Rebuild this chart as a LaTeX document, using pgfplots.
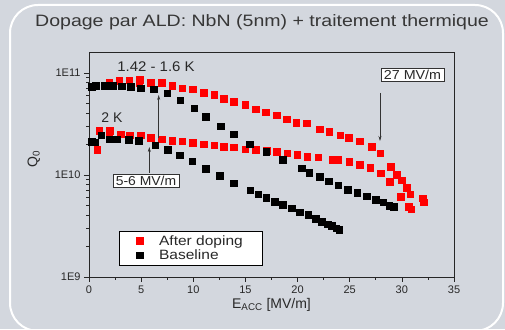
\documentclass[border=0pt]{standalone}
\usepackage{fontspec}
\setmainfont{Liberation Sans}
\usepackage{pgfplots}
\pgfplotsset{compat=1.18}
\usetikzlibrary{arrows.meta}
\definecolor{bgc}{RGB}{211,215,222}
\definecolor{txt}{RGB}{40,40,40}
\definecolor{ttl}{RGB}{55,55,55}
\definecolor{myred}{RGB}{255,0,0}
\begin{document}
\begin{tikzpicture}[x=1pt,y=1pt]
\fill[bgc] (0,0) rectangle (505,329);
\useasboundingbox (0,0) rectangle (505,329);
\draw[white, line width=2pt, rounded corners=28pt] (10,-2) rectangle (503,324);
\node[ttl, font=\fontsize{16.5}{20}\selectfont] at (262,307) {\scalebox{1.185}[1]{Dopage par ALD: NbN (5nm) + traitement thermique}};
\begin{axis}[
  at={(89pt,52pt)}, anchor=south west,
  scale only axis, width=365pt, height=225pt,
  xmin=0, xmax=35, ymode=log, ymin=1e9, ymax=1.6e11,
  xtick={0,5,...,35}, minor x tick num=1,
  ytick={1e9,1e10,1e11}, yticklabels={1E9,1E10,1E11},
  tick align=outside, xtick pos=bottom, ytick pos=left,
  major tick length=5pt, minor tick length=3pt,
  axis line style={draw=black!85, line width=0.8pt},
  every tick/.style={black!85, line width=0.6pt},
  tick label style={txt, font=\fontsize{11}{12}\selectfont},
  /pgf/number format/assume math mode=true,
  xlabel={E\textsubscript{ACC} [MV/m]},
  ylabel={Q\textsubscript{0}},
  label style={txt, font=\fontsize{14}{16}\selectfont},
  xlabel style={at={(axis description cs:0.5,-0.125)}, anchor=center},
  ylabel style={at={(axis description cs:-0.151,0.524)}, anchor=center},
  legend style={at={(0.083,0.204)}, anchor=north west, draw=black, fill=white,
    font=\fontsize{13.5}{15}\selectfont, text=txt, inner xsep=17pt, inner ysep=2pt,
    row sep=-1pt},
  legend cell align=left,
]
\addplot[only marks, mark=square*, mark size=3.3pt, color=myred, mark options={draw=none, fill=myred}] coordinates {
(1.95,8.1e10)(2.9,8.4e10)(3.87,8.5e10)(4.89,8.6e10)(4.82,8.0e10)(5.9,8.0e10)(6.97,8.0e10)(7.99,7.5e10)(8.95,7.1e10)(9.94,6.9e10)(11.0,6.4e10)(12.0,6.1e10)(12.94,5.6e10)(13.9,5.2e10)(14.96,4.9e10)(16.0,4.4e10)(16.94,4.1e10)(18.0,3.85e10)(18.95,3.5e10)(19.87,3.26e10)(20.87,3.2e10)(22.1,2.8e10)(23.04,2.66e10)(24.07,2.45e10)(24.9,2.32e10)(25.95,2.14e10)(27.1,1.9e10)(27.93,1.63e10)(28.95,1.2e10)(29.5,1.0e10)(29.98,8.9e9)(30.46,7.5e9)(30.8,6.5e9)(32.0,5.9e9)(32.1,5.4e9)
(0.8,1.76e10)(0.99,2.7e10)(2.01,2.7e10)(1.95,2.56e10)(3.04,2.5e10)(3.93,2.45e10)(4.96,2.45e10)(5.9,2.32e10)(6.97,2.24e10)(7.99,2.17e10)(8.95,2.14e10)(9.94,2.07e10)(11.0,2.0e10)(12.0,1.95e10)(12.94,1.9e10)(13.9,1.87e10)(14.96,1.79e10)(16.0,1.76e10)(17.04,1.73e10)(18.0,1.69e10)(19.0,1.63e10)(19.97,1.58e10)(20.93,1.51e10)(21.99,1.49e10)(23.36,1.41e10)(23.9,1.4e10)(24.96,1.34e10)(25.98,1.26e10)(26.97,1.18e10)(27.97,1.04e10)(28.86,8.6e9)(29.9,6.1e9)(30.65,4.9e9)(30.9,4.6e9)
};
\addlegendentry{\hspace{14pt}\scalebox{1.15}[1]{After doping}\hspace{-14.5pt}}
\addplot[only marks, mark=square*, mark size=3.3pt, color=black, mark options={draw=none, fill=black}] coordinates {
(0.26,7.3e10)(0.67,7.5e10)(1.53,7.5e10)(2.27,7.5e10)(3.13,7.4e10)(4.0,7.3e10)(4.96,7.1e10)(6.23,6.9e10)(7.48,6.3e10)(8.75,5.4e10)(10.07,4.5e10)(11.2,3.7e10)(12.6,3.0e10)(13.9,2.5e10)(15.4,2.0e10)(17.0,1.69e10)(18.6,1.40e10)(20.4,1.16e10)(21.1,1.05e10)(22.1,9.6e9)(23.0,8.7e9)(23.9,7.9e9)(24.8,7.2e9)(25.7,6.7e9)(26.6,6.2e9)(27.5,5.7e9)(28.2,5.4e9)(28.8,5.0e9)(29.2,4.9e9)
(0.26,2.12e10)(0.54,2.09e10)(1.18,2.45e10)(1.92,2.24e10)(2.68,2.24e10)(3.83,2.2e10)(4.76,2.17e10)(6.33,1.95e10)(7.54,1.77e10)(8.69,1.56e10)(9.91,1.36e10)(11.19,1.15e10)(12.53,9.85e9)(13.9,8.3e9)(15.44,7.1e9)(16.23,6.5e9)(17.0,6.0e9)(17.83,5.5e9)(18.57,5.1e9)(19.43,4.7e9)(20.2,4.3e9)(21.0,4.05e9)(21.73,3.7e9)(22.3,3.5e9)(22.9,3.3e9)(23.3,3.16e9)(23.7,3.0e9)(24.0,2.9e9)
};
\addlegendentry{\hspace{14pt}\scalebox{1.15}[1]{Baseline}}
\end{axis}
\node[txt, font=\fontsize{14}{16}\selectfont] at (156,262) {\scalebox{1.07}[1]{1.42 - 1.6 K}};
\node[txt, font=\fontsize{14}{16}\selectfont] at (112,211) {2 K};
\draw[black!80, line width=0.6pt, -{Stealth[length=5pt,width=3pt]}] (158.7,191) -- (158.7,234);
\draw[black!80, line width=0.6pt, -{Stealth[length=5pt,width=3pt]}] (149.3,156) -- (149.3,182);
\draw[black!80, line width=0.6pt, -{Stealth[length=5pt,width=3pt]}] (380,236) -- (380,188);
\node[txt, draw=black!80, fill=white, line width=0.6pt, font=\fontsize{13}{15}\selectfont, inner xsep=3pt, inner ysep=1.5pt] at (146,148) {\scalebox{1.07}[1]{5-6 MV/m}};
\node[txt, draw=black!80, fill=white, line width=0.6pt, font=\fontsize{13}{15}\selectfont, inner xsep=3pt, inner ysep=1.5pt] at (412.5,254) {\scalebox{1.1}[1]{27 MV/m}};
\end{tikzpicture}
\end{document}
